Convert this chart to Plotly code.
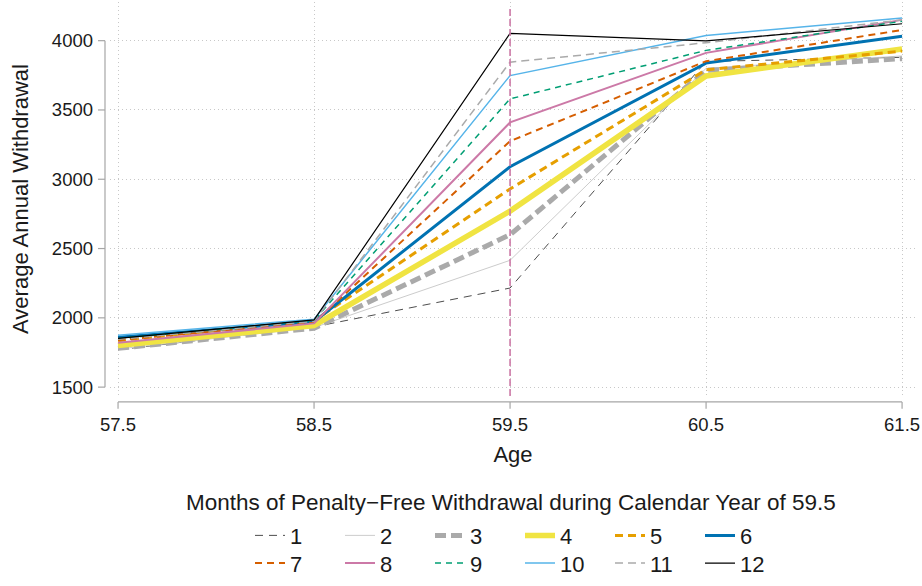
import plotly.graph_objects as go

ages = [57.5, 58.5, 59.5, 60.5, 61.5]
months = ["1", "2", "3", "4", "5", "6", "7", "8", "9", "10", "11", "12"]

s1 = [1770, 1935, 2215, 3850, 3880]
s2 = [1775, 1930, 2415, 3800, 3890]
s3 = [1780, 1925, 2600, 3785, 3870]
s4 = [1800, 1945, 2770, 3745, 3940]
s5 = [1835, 1980, 2930, 3790, 3925]
s6 = [1860, 1972, 3090, 3838, 4032]
s7 = [1840, 1965, 3275, 3852, 4077]
s8 = [1820, 1960, 3410, 3912, 4150]
s9 = [1850, 1982, 3580, 3930, 4140]
s10 = [1875, 1990, 3748, 4038, 4163]
s11 = [1845, 1975, 3845, 3985, 4150]
s12 = [1852, 1985, 4052, 3998, 4122]
series = [s1, s2, s3, s4, s5, s6, s7, s8, s9, s10, s11, s12]

colors = ["#4d4d4d", "#cccccc", "#aaaaaa", "#F0E442", "#E69F00", "#0072B2",
          "#D55E00", "#CC79A7", "#009E73", "#56B4E9", "#aaaaaa", "#000000"]
widths = [1.0, 1.0, 5.0, 5.5, 3.0, 3.0, 2.0, 2.0, 1.5, 1.5, 1.5, 1.2]
dashes = ["8px,6px", "solid", "11px,5px", "solid", "8px,5px", "solid",
          "7px,5px", "solid", "6px,5px", "solid", "8px,5px", "solid"]

yticks = [1500, 2000, 2500, 3000, 3500, 4000]
xticks = [57.5, 58.5, 59.5, 60.5, 61.5]
cutoff_age = 59.5

W, H = 922, 586
ml, mr, mt, mb = 110, 6, 2, 186
pw, ph = W - ml - mr, H - mt - mb
yr = [1436, 4279]
xr = [57.459, 61.571]

fig = go.Figure()
for i, (m, s) in enumerate(zip(months, series)):
    fig.add_trace(go.Scatter(
        x=ages, y=s, mode="lines", name=m,
        line=dict(color=colors[i], width=widths[i], dash=dashes[i]),
        legend="legend" if i < 6 else "legend2",
    ))

shapes = []
# vertical reference line
shapes.append(dict(type="line", xref="x", yref="paper", x0=cutoff_age, x1=cutoff_age,
                   y0=0, y1=0.99, line=dict(color="#CC79A7", width=1.6, dash="7px,3px")))
# range-frame axis lines
axcol = "#a6a6a6"
px_x = lambda p: p / pw
px_y = lambda p: p / ph
shapes.append(dict(type="line", xref="paper", yref="y", x0=-px_x(5), x1=-px_x(5),
                   y0=yticks[0], y1=yticks[-1], line=dict(color=axcol, width=1.2)))
for t in yticks:
    shapes.append(dict(type="line", xref="paper", yref="y", x0=-px_x(12), x1=-px_x(5),
                       y0=t, y1=t, line=dict(color=axcol, width=1.2)))
shapes.append(dict(type="line", xref="x", yref="paper", x0=xticks[0], x1=xticks[-1],
                   y0=-px_y(6), y1=-px_y(6), line=dict(color=axcol, width=1.2)))
for t in xticks:
    shapes.append(dict(type="line", xref="x", yref="paper", x0=t, x1=t,
                       y0=-px_y(6), y1=-px_y(13), line=dict(color=axcol, width=1.2)))

font = "Liberation Sans, Arial, sans-serif"
gridkw = dict(showgrid=True, gridcolor="#c8c8c8", griddash="1px,3px", gridwidth=1)
fig.update_layout(
    width=W, height=H,
    margin=dict(l=ml, r=mr, t=mt, b=mb),
    plot_bgcolor="white", paper_bgcolor="white",
    font=dict(family=font, color="#1a1a1a", size=18),
    shapes=shapes,
    xaxis=dict(range=xr, tickvals=xticks, ticktext=[str(v) for v in xticks],
               showline=False, zeroline=False, ticks="", **gridkw,
               ticklabelstandoff=15, tickfont=dict(size=18.5),
               title=dict(text="Age", font=dict(size=22), standoff=13)),
    yaxis=dict(range=yr, tickvals=yticks, showline=False, zeroline=False, ticks="",
               **gridkw,
               ticklabelstandoff=16, tickfont=dict(size=18.5),
               title=dict(text="Average Annual Withdrawal", font=dict(size=22), standoff=17)),
    legend=dict(orientation="h", x=(250 - ml) / pw, xanchor="left",
                y=-(541 - ph - mt) / ph, yanchor="middle",
                entrywidth=45, entrywidthmode="pixels",
                font=dict(size=22), bgcolor="rgba(0,0,0,0)", tracegroupgap=0),
    legend2=dict(orientation="h", x=(250 - ml) / pw, xanchor="left",
                 y=-(569 - ph - mt) / ph, yanchor="middle",
                 entrywidth=45, entrywidthmode="pixels",
                 font=dict(size=22), bgcolor="rgba(0,0,0,0)", tracegroupgap=0),
    annotations=[dict(text="Months of Penalty\u2212Free Withdrawal during Calendar Year of 59.5",
                      xref="paper", yref="paper", x=(511 - ml) / pw, xanchor="center",
                      y=-(508 - ph - mt) / ph, yanchor="middle", showarrow=False,
                      font=dict(size=22.5))],
)

fig.write_html("out.html")
